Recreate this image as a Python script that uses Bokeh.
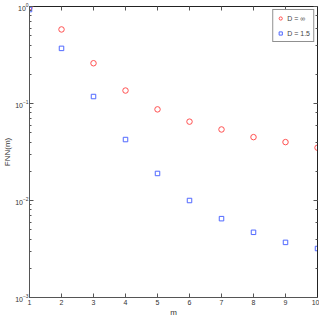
from bokeh.plotting import figure
from bokeh.models import LogAxis, LinearAxis, FixedTicker, Legend, LegendItem, LogTicker, CustomJSTickFormatter
from bokeh.embed import file_html
from bokeh.resources import INLINE

m = [1, 2, 3, 4, 5, 6, 7, 8, 9, 10]
fnn_inf = [0.98, 0.58, 0.26, 0.136, 0.087, 0.065, 0.054, 0.045, 0.040, 0.035]
fnn_15 = [0.93, 0.37, 0.118, 0.0425, 0.019, 0.010, 0.0065, 0.0047, 0.0037, 0.0032]
x_ticks = [1, 2, 3, 4, 5, 6, 7, 8, 9, 10]
labels = ["D = \u221e", "D = 1.5"]

FONT = "Liberation Sans"
AX = "#555555"

p = figure(width=319, height=319, y_axis_type="log", x_range=(1, 10), y_range=(1e-3, 1),
           output_backend="svg", toolbar_location=None,
           min_border_left=0, min_border_right=2, min_border_top=6, min_border_bottom=0)
p.grid.visible = False
p.background_fill_color = "white"
p.outline_line_color = None

r1 = p.scatter(m, fnn_inf, marker="circle", size=5.5, fill_color=None, line_color="#ff5050", line_width=1)
r2 = p.scatter(m, fnn_15, marker="square", size=4.5, fill_color=None, line_color="#5068ff", line_width=1)

def style(ax):
    ax.axis_line_color = AX
    ax.major_tick_line_color = AX
    ax.minor_tick_line_color = AX
    ax.major_tick_in = 4
    ax.major_tick_out = 0
    ax.minor_tick_in = 2
    ax.minor_tick_out = 0
    ax.major_label_text_font = FONT
    ax.major_label_text_font_size = "7px"
    ax.major_label_text_color = "#333333"
    ax.major_label_standoff = 1
    ax.axis_label_text_font = FONT
    ax.axis_label_text_font_size = "8px"
    ax.axis_label_text_font_style = "normal"
    ax.axis_label_text_color = "#333333"
    ax.axis_label_standoff = 0

xa = p.xaxis[0]
xa.ticker = FixedTicker(ticks=x_ticks)
xa.axis_label = "m"
style(xa)
xa.major_label_standoff = 2
xa.minor_tick_in = 0
ya = p.yaxis[0]
ya.axis_label = "FNN(m)"
style(ya)

blank = CustomJSTickFormatter(code="return ''")
top = LinearAxis(ticker=FixedTicker(ticks=x_ticks), formatter=blank)
style(top)
top.minor_tick_in = 0
top.major_label_standoff = 0
top.axis_line_color = "#222222"
p.add_layout(top, "above")
right = LogAxis(ticker=LogTicker(), formatter=CustomJSTickFormatter(code="return ''"))
style(right)
right.major_label_standoff = 0
right.axis_line_color = "#222222"
p.add_layout(right, "right")

legend = Legend(items=[LegendItem(label=labels[0], renderers=[r1]),
                       LegendItem(label=labels[1], renderers=[r2])],
                location="top_right")
legend.label_text_font = FONT
legend.label_text_font_size = "7px"
legend.label_text_color = "#444444"
legend.border_line_color = "#222222"
legend.glyph_width = 8
legend.glyph_height = 10
legend.spacing = 5
legend.padding = 3
legend.margin = 3
legend.label_standoff = 3
legend.label_height = 10
p.add_layout(legend)

open("out.html", "w").write(file_html(p, INLINE))
